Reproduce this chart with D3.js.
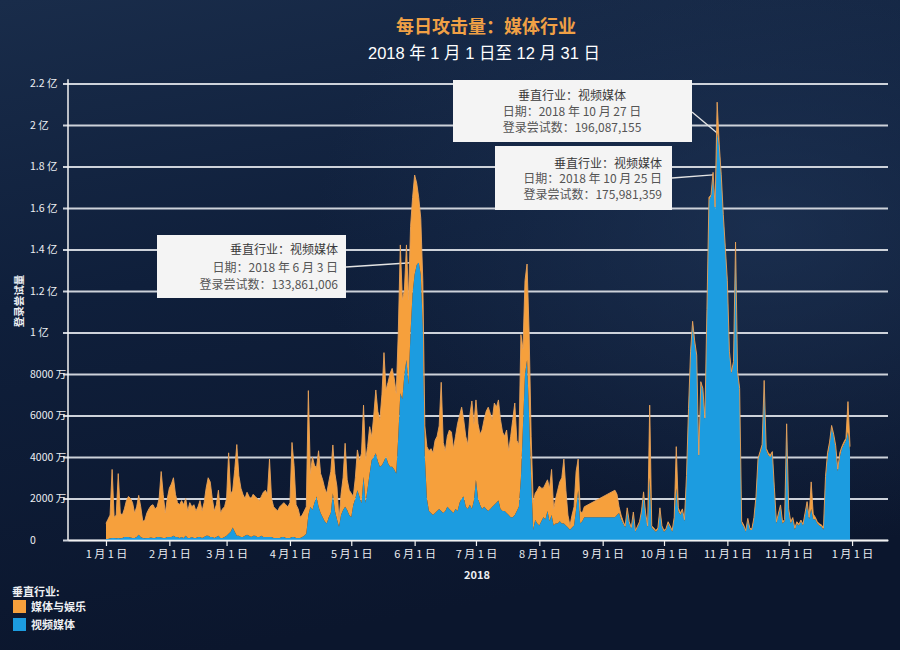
<!DOCTYPE html>
<html>
<head>
<meta charset="utf-8">
<script src="https://cdn.jsdelivr.net/npm/d3@7"></script>
<style>
html, body { margin: 0; padding: 0; background: #0d1a32; }
svg { display: block; font-family: "Noto Sans CJK SC", "Noto Sans", sans-serif; }
</style>
</head>
<body>
<svg id="chart" width="900" height="650"></svg>
<script>
// day offsets from 2018-01-01 (no data between day 235 and 248, the chart draws a straight band there)
var dayIndex = d3.range(0, 235).concat(d3.range(249, 365));

// 视频媒体, millions of login attempts per day (bottom layer)
var videoVals = [
  0.5,0.5,0.8,1,1,0.8,1,0.8,1,1.5,
  1.5,1.5,1.2,1,1,1.5,2.5,1.5,1,0.8,
  1,1,1.2,1,1,1.5,1.5,1.2,1,1,
  1.5,1.5,1.5,2,1.5,1.5,1,1.5,1,2,
  1,1,1.5,1,1,1.5,1.5,1,1.5,2,
  2,1.5,1.5,1,1.5,2,1,1,1.5,2,
  3,4,6,4,2,2,1.5,1.5,2,2.5,
  2,1.5,2,2,1.5,1.5,2,1.5,1.5,1.5,
  1.5,1.5,1,1,1,1,1.5,1.5,1,1,
  1,1.5,1.5,1,1,1,1.5,2,3,12,
  16,14.5,18,21,16,13,11,9,8,11,
  13,22.5,14,10,6.4,12,14.5,16,14.5,12,
  11,17,20,24,21,17.7,30.5,18,25,32,
  38.6,40,41.8,38,35.3,36,38,40.2,37,35.3,
  35.3,34,32.1,50,70.7,68,80,86.7,75,100,
  119,128,132.5,133.86,128,103,40,20,14,13,
  12,13,14,15,14,13,14,16,15,14,
  13,15,14,18,20,21,16,15,17,15,
  19,29,20,17,15,16,15,14,15,16,
  17,18,19,15,14,14,13,12,11,11,
  12,14,16,30,55,80,86.7,60,30,5,
  9.6,8,7,9,11,10,14,9,12,7,
  8,8,9,8,8,7,6,5,6,7,
  15,24,8,9,11,
  11,12,13,10,8,
  6,14,8,5.5,12,4,6,8,13,21.7,
  12,6,30,6,5,4,5,14,6,4,
  5,8,6,4,10,25,14,12,14,9,
  30,62.7,90,104.4,95,88.3,40,75.5,72.3,57.8,
  110,163.9,165.5,175.98,159,196.09,189.6,175,155.8,140,
  123.7,90,80.3,85.2,143,80.3,72.3,8,6.4,4,
  9.6,5,4.8,10,20,38.6,41.8,45,76.3,43.4,
  41,40,41.8,24.1,8,12,16.1,8,9,55.4,
  14,8,10,5,8,7,9,7,12,17,
  10,15,10,10,8,7,6.5,5,29,40,
  46,54,50,44,33,40,44,46,48,52,43
];

// 媒体与娱乐, millions of login attempts per day (stacked on top)
var mediaVals = [
  7.5,9.5,11.2,33,10,11.2,31,12.2,11,13.5,
  17.5,19.5,18.8,17,12,14.5,19,14.5,8,8.7,
  12,14,15.3,16,14,14.5,18.5,31.8,21,12,
  18.5,23.5,25.5,28,20.5,16.5,16,17.5,16,18,
  13,17,14.5,16,13,14.5,17.5,13,16.5,23,
  28,26.5,18.5,13,15.5,22,12,14,14.5,18,
  39,18,18,30,44,29,23.5,20.5,18,20.5,
  19,18.5,20,19,18.5,17.5,19,21.5,22.5,20.5,
  37.5,18.5,15,14,13,15,15.5,16.5,16,15,
  17,45.5,34.5,16,14,10,10.5,12,13,60,
  16,25.5,18,14,27,19,18,16,14.5,17,
  20,23.3,18,15.7,3.2,10,15.5,30.6,14.5,12,
  11.5,4,10,19.4,17,24.1,34.5,20.6,20,22.6,
  11.2,20,30.5,24,22.5,34,52.3,32.1,39,45,
  47.4,44,38.6,50,71.5,47.7,40.5,55.5,40.7,51,
  46,47.9,39.5,31.14,27,22,15,25,29,31,
  30,35,36,40,62,34,29,34,38,38,
  31,35,42,42,44,37,34,31,43,52,
  37,38.5,36,34,38,42,47,50,46,42,
  49,46,48.5,43,38,36,40,31,39,47,
  54,34,30,69,37,45,46.3,40,20,13,
  12.9,16,19,16,14,17,15,16,22,8,
  12,16,19,22,31,17,6,2,6,9,
  18,15,6,4,5,
  13,10,3,2,1,
  0.8,1.5,0.8,0.6,1.5,0.5,0.6,0.8,1,1.5,
  1,0.8,35,0.8,0.8,0.6,0.8,1.5,0.8,0.6,
  0.6,0.8,0.8,0.6,1,20,1.5,1,1,0.8,
  1,0.8,1,1,1,0.8,1,0.8,0.8,1,
  1,1.2,0.8,1.2,1.5,14.91,1.2,1,1,1,
  1.2,1,0.8,0.8,0.6,0.8,0.8,1,0.8,0.6,
  0.8,0.6,0.6,0.8,1,0.8,0.8,1,0.6,0.8,
  1,1,0.8,1,0.8,1,0.8,0.8,0.8,0.6,
  1,0.8,0.8,0.8,0.8,0.6,0.6,0.6,1,1.5,
  1,13,2.5,1,0.8,0.8,0.8,0.8,1.5,2,
  1.2,1.2,1,1.5,1.2,2,1,1.2,1,14.7,2
];

var monthLabels = ["1 月 1 日","2 月 1 日","3 月 1 日","4 月 1 日","5 月 1 日","6 月 1 日",
  "7 月 1 日","8 月 1 日","9 月 1 日","10 月 1 日","11 月 1 日","11 月 1 日","1 月 1 日"];
var yTickVals = [0,20,40,60,80,100,120,140,160,180,200,220];
var yTickLabels = ["0","2000 万","4000 万","6000 万","8000 万","1 亿","1.2 亿","1.4 亿","1.6 亿","1.8 亿","2 亿","2.2 亿"];
var seriesNames = ["媒体与娱乐","视频媒体"];
var seriesColors = ["#f6a03c","#1c9ce0"];

// callouts: day offset, value (millions), text
var calloutDays = [153, 299, 297];
var calloutVals = [133.861006, 196.087155, 175.981359];
var calloutText = [
  ["垂直行业：视频媒体","日期：2018 年 6 月 3 日","登录尝试数：133,861,006"],
  ["垂直行业：视频媒体","日期：2018 年 10 月 27 日","登录尝试数：196,087,155"],
  ["垂直行业：视频媒体","日期：2018 年 10 月 25 日","登录尝试数：175,981,359"]
];

var W = 900, H = 650;
var svg = d3.select("#chart");
var start = new Date(2018, 0, 1);

// background
var defs = svg.append("defs");
var bg = defs.append("linearGradient").attr("id", "bg")
  .attr("x1", 0).attr("y1", 0).attr("x2", 0.25).attr("y2", 1);
bg.append("stop").attr("offset", "0%").attr("stop-color", "#192c4a");
bg.append("stop").attr("offset", "45%").attr("stop-color", "#0f1f3b");
bg.append("stop").attr("offset", "100%").attr("stop-color", "#0b162d");
var glow = defs.append("radialGradient").attr("id", "glow")
  .attr("cx", 0.85).attr("cy", 0.35).attr("r", 0.5);
glow.append("stop").attr("offset", "0%").attr("stop-color", "#22395c").attr("stop-opacity", 0.6);
glow.append("stop").attr("offset", "100%").attr("stop-color", "#22395c").attr("stop-opacity", 0);
svg.append("rect").attr("width", W).attr("height", H).attr("fill", "url(#bg)");
svg.append("rect").attr("width", W).attr("height", H).attr("fill", "url(#glow)");

// scales
var x = d3.scaleTime()
  .domain([new Date(2017, 11, 13, 10), new Date(2019, 0, 18, 14)])
  .range([68, 888]);
var y = d3.scaleLinear().domain([0, 222]).range([540, 79.35]);

var data = dayIndex.map(function(d, i) {
  return { date: d3.timeDay.offset(start, d), video: videoVals[i], media: mediaVals[i] };
});
var stacked = d3.stack().keys(["video", "media"])(data);

// gridlines (with the short tick to the left of the axis)
var grid = svg.append("g").attr("transform", "translate(63,0)")
  .call(d3.axisLeft(y).tickValues(yTickVals).tickSizeInner(-825).tickSizeOuter(0).tickFormat(""));
grid.select(".domain").remove();
grid.selectAll("line").attr("stroke", "#cdd2da").attr("stroke-width", 1.8);

// y labels
var yLab = svg.append("g").attr("transform", "translate(30,0)")
  .call(d3.axisLeft(y).tickValues(yTickVals).tickSize(0).tickPadding(0)
    .tickFormat(function(d, i) { return yTickLabels[i]; }));
yLab.select(".domain").remove();
yLab.selectAll("text").attr("text-anchor", "start").attr("x", 0)
  .attr("fill", "#eceef2").style("font-size", "10.5px").style("font-family", "'Noto Sans CJK SC', sans-serif");

// leader lines (under the areas)
var calloutAnchor = [
  { x: 346, y: 267 },
  { x: 692, y: 112 },
  { x: 672, y: 178 }
];
calloutDays.forEach(function(d, i) {
  svg.append("line")
    .attr("x1", calloutAnchor[i].x).attr("y1", calloutAnchor[i].y)
    .attr("x2", x(d3.timeDay.offset(start, d))).attr("y2", y(calloutVals[i]))
    .attr("stroke", "#e4e4e4").attr("stroke-width", 1.3);
});

// stacked areas
var area = d3.area()
  .x(function(d) { return x(d.data.date); })
  .y0(function(d) { return y(d[0]); })
  .y1(function(d) { return y(d[1]); });
var topLine = d3.line()
  .x(function(d) { return x(d.data.date); })
  .y(function(d) { return y(d[1]); });
svg.append("g").selectAll("path").data(stacked).enter().append("path")
  .attr("d", area)
  .attr("fill", function(d, i) { return i === 0 ? seriesColors[1] : seriesColors[0]; });
// thin orange edge along the top of the stack
svg.append("path").datum(stacked[1]).attr("d", topLine)
  .attr("fill", "none").attr("stroke", "#e9a35a").attr("stroke-width", 0.9);

// y axis line
svg.append("line").attr("x1", 68).attr("x2", 68).attr("y1", y(222)).attr("y2", 540)
  .attr("stroke", "#f2f2f2").attr("stroke-width", 1.5);

// x axis
var monthDates = d3.range(0, 13).map(function(m) { return new Date(2018, m, 1); });
var xAx = svg.append("g").attr("transform", "translate(0,540)")
  .call(d3.axisBottom(x).tickValues(monthDates).tickSizeInner(6).tickSizeOuter(0).tickPadding(4)
    .tickFormat(function(d, i) { return monthLabels[i]; }));
xAx.select(".domain").attr("stroke", "#f2f2f2").attr("stroke-width", 1.5);
xAx.selectAll(".tick line").attr("stroke", "#f2f2f2").attr("stroke-width", 1.2);
xAx.selectAll("text").attr("fill", "#eceef2").style("font-size", "11px")
  .style("font-family", "'Noto Sans CJK SC', sans-serif");

svg.append("text").attr("x", 477).attr("y", 579).attr("text-anchor", "middle")
  .attr("fill", "#eceef2").style("font-size", "11px").style("font-weight", "bold").text("2018");

// y axis title
svg.append("text").attr("transform", "translate(23,301) rotate(-90)")
  .attr("text-anchor", "middle").attr("fill", "#eceef2")
  .style("font-size", "10.5px").style("font-weight", "bold").text("登录尝试量");

// title
svg.append("text").attr("x", 486).attr("y", 33).attr("text-anchor", "middle")
  .attr("fill", "#f0a045").style("font-size", "18px").style("font-weight", "bold")
  .text("每日攻击量：媒体行业");
svg.append("text").attr("x", 484).attr("y", 59).attr("text-anchor", "middle")
  .attr("fill", "#ffffff").style("font-size", "16.5px")
  .style("font-family", "'Liberation Sans', 'Noto Sans CJK SC', sans-serif")
  .text("2018 年 1 月 1 日至 12 月 31 日");

// callout boxes
var boxes = [
  { x: 157, y: 235, w: 189, h: 63, tx: 338, anchor: "end", ty: [250, 268, 285] },
  { x: 453, y: 80, w: 239, h: 62, tx: 572, anchor: "middle", ty: [96, 112, 128] },
  { x: 495, y: 146, w: 177, h: 64, tx: 662, anchor: "end", ty: [163.5, 179, 194.5] }
];
boxes.forEach(function(b, i) {
  var g = svg.append("g");
  g.append("rect").attr("x", b.x).attr("y", b.y).attr("width", b.w).attr("height", b.h)
    .attr("fill", "#f4f4f4");
  calloutText[i].forEach(function(t, j) {
    g.append("text").attr("x", b.tx).attr("y", b.ty[j]).attr("dy", "0.36em")
      .attr("text-anchor", b.anchor).attr("fill", j === 0 ? "#3a3a3a" : "#555555")
      .style("font-size", "12px").text(t);
  });
});

// legend
var leg = svg.append("g");
leg.append("text").attr("x", 12).attr("y", 596).attr("fill", "#eef0f3")
  .style("font-size", "11px").style("font-weight", "bold").text("垂直行业:");
seriesNames.forEach(function(n, i) {
  leg.append("rect").attr("x", 13).attr("y", 600 + i * 18).attr("width", 13).attr("height", 13)
    .attr("fill", seriesColors[i]);
  leg.append("text").attr("x", 31).attr("y", 607 + i * 18).attr("dy", "0.36em")
    .attr("fill", "#eef0f3").style("font-size", "11px").style("font-weight", "bold").text(n);
});
</script>
</body>
</html>
